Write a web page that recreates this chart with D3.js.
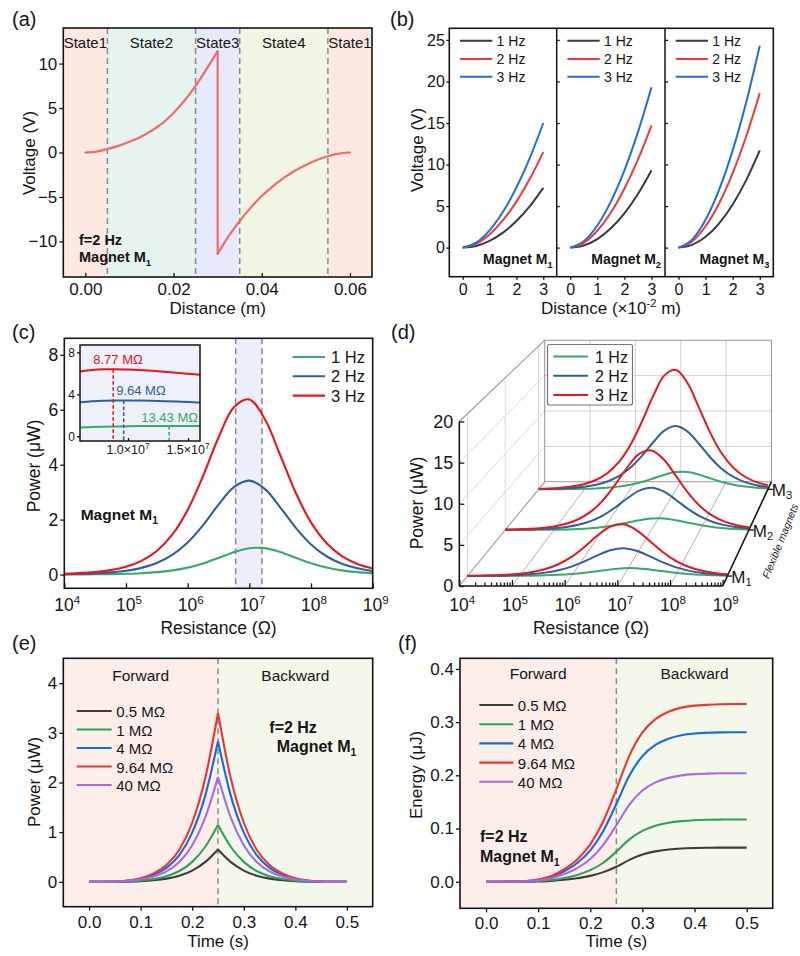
<!DOCTYPE html>
<html><head><meta charset="utf-8">
<script src="https://cdn.jsdelivr.net/npm/d3@7"></script>
<style>body{margin:0;background:#fff}</style>
</head><body>
<svg id="fig" width="800" height="956" xmlns="http://www.w3.org/2000/svg"></svg>
<script>
// ===================== DATA =====================
// (a)
const aStateNames = ["State1", "State2", "State3", "State4", "State1"];
const aStateStart = [-0.005, 0.005, 0.025, 0.035, 0.055];
const aStateEnd   = [0.005, 0.025, 0.035, 0.055, 0.065];
const aStateBorders = [0.005, 0.025, 0.035, 0.055];
const aDist1 = [0, 0.0025, 0.005, 0.0075, 0.01, 0.0125, 0.015, 0.0175, 0.02, 0.0225, 0.025, 0.0275, 0.03];
const aVolt1 = [0, 0.1, 0.4, 0.75, 1.2, 1.75, 2.45, 3.3, 4.45, 5.85, 7.5, 9.4, 11.4];
const aDist2 = [0.03, 0.0325, 0.035, 0.0375, 0.04, 0.0425, 0.045, 0.0475, 0.05, 0.0525, 0.055, 0.0575, 0.06];
const aVolt2 = [-11.4, -9.4, -7.7, -6.2, -4.9, -3.8, -2.85, -2.05, -1.4, -0.85, -0.42, -0.12, 0];
const aXTicks = [0, 0.02, 0.04, 0.06];
const aYTicks = [-10, -5, 0, 5, 10];

// (b)
const bFreqs = ["1 Hz", "2 Hz", "3 Hz"];
const bMagnets = ["1", "2", "3"];
const bDistance = [0, 0.5, 1, 1.5, 2, 2.5, 3];
const bVoltM1 = [
  [0, 0.2, 0.8, 1.8, 3.2, 5.0, 7.2],
  [0, 0.46, 1.59, 3.3, 5.54, 8.28, 11.5],
  [0, 0.6, 2.08, 4.31, 7.23, 10.8, 15.0]];
const bVoltM2 = [
  [0, 0.26, 1.03, 2.33, 4.13, 6.46, 9.3],
  [0, 0.58, 2.03, 4.22, 7.09, 10.59, 14.7],
  [0, 0.77, 2.67, 5.54, 9.3, 13.9, 19.3]];
const bVoltM3 = [
  [0, 0.33, 1.3, 2.93, 5.2, 8.13, 11.7],
  [0, 0.74, 2.57, 5.34, 8.97, 13.4, 18.6],
  [0, 0.96, 3.36, 6.98, 11.71, 17.5, 24.3]];
const bXTicks = [0, 1, 2, 3];
const bYTicks = [0, 5, 10, 15, 20, 25];

// (c) & (d): resistance grid as log10(R)
const freqNames = ["1 Hz", "2 Hz", "3 Hz"];
const resExp = [4, 4.25, 4.5, 4.75, 5, 5.25, 5.5, 5.75, 6, 6.25, 6.5, 6.75, 7, 7.25, 7.5, 7.75, 8, 8.25, 8.5, 8.75, 9];
const cPower1Hz = [0.0029, 0.0052, 0.0092, 0.0163, 0.0288, 0.0506, 0.0881, 0.1512, 0.2529, 0.4048, 0.6048, 0.8155, 0.959, 0.9609, 0.8201, 0.61, 0.4091, 0.2559, 0.1532, 0.0893, 0.0513];
const cPower2Hz = [0.0142, 0.0251, 0.0446, 0.0789, 0.139, 0.243, 0.421, 0.713, 1.165, 1.799, 2.545, 3.183, 3.419, 3.118, 2.449, 1.709, 1.097, 0.667, 0.393, 0.227, 0.129];
const cPower3Hz = [0.029, 0.051, 0.092, 0.162, 0.285, 0.499, 0.86, 1.45, 2.352, 3.588, 4.987, 6.094, 6.372, 5.663, 4.351, 2.988, 1.898, 1.147, 0.672, 0.387, 0.221];
const cBand = [6e6, 1.6e7];
const cXTickExp = [4, 5, 6, 7, 8, 9];
const cYTicks = [0, 2, 4, 6, 8];
// inset (MΩ)
const insetRes = [6, 7, 8, 9, 10, 11, 12, 13, 14, 15, 16];
const insetP1Hz = [0.837, 0.883, 0.917, 0.942, 0.959, 0.970, 0.977, 0.980, 0.980, 0.977, 0.972];
const insetP2Hz = [3.235, 3.334, 3.390, 3.416, 3.419, 3.405, 3.379, 3.345, 3.304, 3.258, 3.209];
const insetP3Hz = [6.175, 6.319, 6.386, 6.399, 6.372, 6.319, 6.245, 6.158, 6.062, 5.960, 5.855];
const insetOptR = [13.43, 9.64, 8.77];
const insetOptP = [0.98, 3.42, 6.40];
const insetOptLabel = ["13.43 MΩ", "9.64 MΩ", "8.77 MΩ"];
const insetYTicks = [0, 4, 8];
const insetXTicks = [10, 15];

// (d)
const dMagnetDepth = [1, 2, 3];
const dPowerM2_1Hz = [0.0046, 0.0082, 0.0144, 0.0256, 0.0452, 0.0795, 0.1385, 0.2377, 0.3974, 0.6361, 0.9503, 1.2816, 1.507, 1.51, 1.2888, 0.9585, 0.6429, 0.4021, 0.2407, 0.1403, 0.0805];
const dPowerM2_2Hz = [0.0231, 0.0409, 0.0725, 0.1283, 0.226, 0.3956, 0.684, 1.158, 1.894, 2.925, 4.137, 5.175, 5.558, 5.07, 3.982, 2.778, 1.783, 1.085, 0.638, 0.368, 0.21];
const dPowerM2_3Hz = [0.048, 0.084, 0.15, 0.266, 0.468, 0.818, 1.411, 2.378, 3.859, 5.887, 8.181, 9.998, 10.455, 9.29, 7.139, 4.901, 3.113, 1.881, 1.103, 0.635, 0.362];
const dPowerM3_1Hz = [0.0073, 0.013, 0.0231, 0.0409, 0.0722, 0.1269, 0.2212, 0.3796, 0.6348, 1.0162, 1.5181, 2.0472, 2.4073, 2.4121, 2.0587, 1.5311, 1.027, 0.6424, 0.3845, 0.2241, 0.1287];
const dPowerM3_2Hz = [0.0367, 0.065, 0.1153, 0.204, 0.359, 0.629, 1.088, 1.842, 3.011, 4.65, 6.578, 8.228, 8.837, 8.06, 6.33, 4.416, 2.835, 1.725, 1.015, 0.586, 0.334];
const dPowerM3_3Hz = [0.076, 0.134, 0.24, 0.424, 0.747, 1.305, 2.251, 3.794, 6.156, 9.392, 13.05, 15.949, 16.678, 14.82, 11.388, 7.819, 4.966, 3.001, 1.759, 1.013, 0.577];
const dYTicks = [0, 5, 10, 15, 20];

// (e) & (f)
const loadNames = ["0.5 MΩ", "1 MΩ", "4 MΩ", "9.64 MΩ", "40 MΩ"];
const time = [0, 0.025, 0.05, 0.075, 0.1, 0.125, 0.15, 0.175, 0.2, 0.225, 0.25, 0.275, 0.3, 0.325, 0.35, 0.375, 0.4, 0.425, 0.45, 0.475, 0.5];
const ePow05 = [0, 0.0001, 0.0013, 0.0052, 0.0143, 0.0325, 0.065, 0.1235, 0.2275, 0.3965, 0.65, 0.3965, 0.2275, 0.1235, 0.065, 0.0325, 0.0143, 0.0052, 0.0013, 0.0001, 0];
const ePow1   = [0, 0.0002, 0.0023, 0.0092, 0.0253, 0.0575, 0.115, 0.2185, 0.4025, 0.7015, 1.15, 0.7015, 0.4025, 0.2185, 0.115, 0.0575, 0.0253, 0.0092, 0.0023, 0.0002, 0];
const ePow4   = [0, 0.0006, 0.0057, 0.0226, 0.0623, 0.1415, 0.283, 0.5377, 0.9905, 1.7263, 2.83, 1.7263, 0.9905, 0.5377, 0.283, 0.1415, 0.0623, 0.0226, 0.0057, 0.0006, 0];
const ePow964 = [0, 0.0007, 0.0068, 0.0272, 0.0748, 0.17, 0.34, 0.646, 1.19, 2.074, 3.4, 2.074, 1.19, 0.646, 0.34, 0.17, 0.0748, 0.0272, 0.0068, 0.0007, 0];
const ePow40  = [0, 0.0004, 0.0042, 0.0169, 0.0464, 0.1055, 0.211, 0.4009, 0.7385, 1.2871, 2.11, 1.2871, 0.7385, 0.4009, 0.211, 0.1055, 0.0464, 0.0169, 0.0042, 0.0004, 0];
const fEn05 = [0, 0, 0, 0.0001, 0.0006, 0.0016, 0.0036, 0.0066, 0.011, 0.018, 0.028, 0.041, 0.051, 0.057, 0.0605, 0.0625, 0.0634, 0.0638, 0.064, 0.064, 0.064];
const fEn1  = [0, 0, 0.0001, 0.0003, 0.0012, 0.0032, 0.0071, 0.0128, 0.0217, 0.0356, 0.0565, 0.0795, 0.0955, 0.1053, 0.1108, 0.1139, 0.1156, 0.1164, 0.1168, 0.117, 0.117];
const fEn4  = [0, 0, 0.0001, 0.0008, 0.0034, 0.009, 0.0197, 0.0351, 0.059, 0.0955, 0.1461, 0.1995, 0.236, 0.2571, 0.2689, 0.2754, 0.2785, 0.2799, 0.2807, 0.281, 0.281];
const fEn964 = [0, 0, 0.0002, 0.001, 0.004, 0.0107, 0.0234, 0.0418, 0.0701, 0.1136, 0.1737, 0.2371, 0.2806, 0.3056, 0.3196, 0.3273, 0.331, 0.3327, 0.3337, 0.334, 0.334];
const fEn40 = [0, 0, 0.0001, 0.0006, 0.0024, 0.0065, 0.0143, 0.0255, 0.0428, 0.0694, 0.1061, 0.1448, 0.1714, 0.1867, 0.1952, 0.1999, 0.2022, 0.2032, 0.2038, 0.204, 0.204];
const turnTime = 0.25;
const timeTicks = [0, 0.1, 0.2, 0.3, 0.4, 0.5];
const eYTicks = [0, 1, 2, 3, 4];
const fYTicks = [0, 0.1, 0.2, 0.3, 0.4];

// ===================== HELPERS =====================
const FONT = "'Liberation Sans', Arial, Helvetica, sans-serif";
const svg = d3.select("#fig");
svg.append("rect").attr("width", 800).attr("height", 956).attr("fill", "#fff");

function T(g, x, y, segs, o = {}) {
  const fs = o.size || 16;
  const t = g.append("text").attr("x", x).attr("y", y)
    .attr("font-family", FONT).attr("font-size", fs)
    .attr("fill", o.fill || "#151515")
    .attr("text-anchor", o.anchor || "start");
  if (o.weight) t.attr("font-weight", o.weight);
  if (o.style) t.attr("font-style", o.style);
  if (o.transform) t.attr("transform", o.transform);
  if (o.baseline) t.attr("dominant-baseline", o.baseline);
  if (typeof segs === "string") segs = [{ t: segs }];
  let cur = 0;
  segs.forEach(s => {
    const target = s.sup ? -0.42 * fs : s.sub ? 0.28 * fs : 0;
    const ts = t.append("tspan").text(s.t);
    if (target !== cur) ts.attr("dy", target - cur);
    if (s.sup || s.sub) ts.attr("font-size", fs * 0.66);
    cur = target;
  });
  return t;
}
function styleAxis(g, size) {
  g.attr("font-family", null).attr("font-size", null);
  g.select(".domain").remove();
  g.selectAll(".tick line").attr("stroke", "#151515").attr("stroke-width", 1.3);
  g.selectAll(".tick text").attr("font-family", FONT).attr("font-size", size).attr("fill", "#151515");
}
function frame(g, x0, y0, x1, y1, w = 1.6) {
  g.append("rect").attr("x", x0).attr("y", y0).attr("width", x1 - x0).attr("height", y1 - y0)
    .attr("fill", "none").attr("stroke", "#151515").attr("stroke-width", w);
}
function vdash(g, x, y0, y1, color = "#8a8a8a") {
  g.append("line").attr("x1", x).attr("x2", x).attr("y1", y0).attr("y2", y1)
    .attr("stroke", color).attr("stroke-width", 1.5).attr("stroke-dasharray", "6,4");
}
function panelLabel(x, y, s) { T(svg, x, y, s, { size: 20 }); }
function pairs(xs, ys) { return xs.map((x, i) => [x, ys[i]]); }

// ===================== (a) =====================
{
  const g = svg.append("g");
  const L = 63.3, R = 372, TOP = 28, B = 277;
  const x = d3.scaleLinear().domain([-0.005, 0.065]).range([L, R]);
  const y = d3.scaleLinear().domain([-14, 14]).range([B, TOP]);
  const stateColors = ["#fde9e1", "#e6f3ee", "#e7eafb", "#f0f6e3", "#fde9e1"];
  aStateNames.forEach((n, i) => {
    g.append("rect").attr("x", x(aStateStart[i])).attr("y", TOP)
      .attr("width", x(aStateEnd[i]) - x(aStateStart[i])).attr("height", B - TOP)
      .attr("fill", stateColors[i]);
  });
  aStateBorders.forEach(v => vdash(g, x(v), TOP, B));
  aStateNames.forEach((n, i) => {
    const c = (aStateStart[i] + aStateEnd[i]) / 2;
    T(g, x(i === 0 ? 0 : i === 4 ? 0.06 : c), 48, n, { size: 15, anchor: "middle" });
  });
  const line = d3.line().x(d => x(d[0])).y(d => y(d[1])).curve(d3.curveMonotoneX);
  const st = { fill: "none", stroke: "#f06b6b", "stroke-width": 2.2, "stroke-linecap": "round" };
  [pairs(aDist1, aVolt1), pairs(aDist2, aVolt2)].forEach(p => {
    const path = g.append("path").attr("d", line(p));
    for (const k in st) path.attr(k, st[k]);
  });
  g.append("line").attr("x1", x(aDist1[aDist1.length - 1])).attr("x2", x(aDist2[0]))
    .attr("y1", y(aVolt1[aVolt1.length - 1])).attr("y2", y(aVolt2[0]))
    .attr("stroke", "#f06b6b").attr("stroke-width", 2.2);
  T(g, 79, 245, "f=2 Hz", { size: 14.5, weight: "bold" });
  T(g, 79, 262, [{ t: "Magnet M" }, { t: "1", sub: true }], { size: 14.5, weight: "bold" });
  frame(g, L, TOP, R, B);
  const ax = g.append("g").attr("transform", `translate(0,${B})`)
    .call(d3.axisBottom(x).tickValues(aXTicks).tickFormat(d3.format(".2f")).tickSize(-4).tickPadding(6));
  styleAxis(ax, 17);
  const ay = g.append("g").attr("transform", `translate(${L},0)`)
    .call(d3.axisLeft(y).tickValues(aYTicks).tickSize(4).tickPadding(2));
  styleAxis(ay, 17);
  T(g, (L + R) / 2, 314, "Distance (m)", { size: 17, anchor: "middle" });
  T(g, 0, 0, "Voltage (V)", { size: 17, anchor: "middle", baseline: "central", transform: "translate(29,153) rotate(-90)" });
  panelLabel(12, 26, "(a)");
}

// ===================== (b) =====================
{
  const g = svg.append("g");
  const TOP = 28.3, B = 276.7;
  const lefts = [449.3, 556.7, 665], rights = [556.7, 665, 773.3];
  const y = d3.scaleLinear().domain([-3.5, 26.4]).range([B, TOP]);
  const colors = ["#3a3a3a", "#f03a3a", "#1d6fe0"];
  const all = [bVoltM1, bVoltM2, bVoltM3];
  all.forEach((series, p) => {
    const x = d3.scaleLinear().domain([-0.5, 3.5]).range([lefts[p], rights[p]]);
    const line = d3.line().x(d => x(d[0])).y(d => y(d[1])).curve(d3.curveMonotoneX);
    series.forEach((vals, i) => {
      g.append("path").attr("d", line(pairs(bDistance, vals))).attr("fill", "none")
        .attr("stroke", colors[i]).attr("stroke-width", 2);
    });
    bFreqs.forEach((f, i) => {
      const yy = [40.7, 59, 76.7][i];
      g.append("line").attr("x1", lefts[p] + 10.7).attr("x2", lefts[p] + 43).attr("y1", yy).attr("y2", yy)
        .attr("stroke", colors[i]).attr("stroke-width", 2);
      T(g, lefts[p] + 47.3, yy, f, { size: 14, baseline: "central" });
    });
    T(g, rights[p] - 4, 264, [{ t: "Magnet M" }, { t: bMagnets[p], sub: true }], { size: 14, weight: "bold", anchor: "end" });
    const ax = g.append("g").attr("transform", `translate(0,${B})`)
      .call(d3.axisBottom(x).tickValues(bXTicks).tickFormat(d3.format("d")).tickSize(3).tickPadding(4));
    styleAxis(ax, 16);
    if (p > 0) {
      const ay2 = g.append("g").attr("transform", `translate(${lefts[p]},0)`)
        .call(d3.axisRight(y).tickValues(bYTicks).tickSize(3).tickFormat(""));
      styleAxis(ay2, 16);
    }
  });
  frame(g, lefts[0], TOP, rights[2], B);
  [lefts[1], lefts[2]].forEach(xx => g.append("line").attr("x1", xx).attr("x2", xx).attr("y1", TOP).attr("y2", B)
    .attr("stroke", "#151515").attr("stroke-width", 1.5));
  const ay = g.append("g").attr("transform", `translate(${lefts[0]},0)`)
    .call(d3.axisLeft(y).tickValues(bYTicks).tickSize(3).tickPadding(1.5));
  styleAxis(ay, 16);
  T(g, 611, 314, [{ t: "Distance (×10" }, { t: "-2", sup: true }, { t: " m)" }], { size: 17, anchor: "middle" });
  T(g, 0, 0, "Voltage (V)", { size: 17, anchor: "middle", baseline: "central", transform: "translate(417,150) rotate(-90)" });
  panelLabel(390, 26, "(b)");
}

// ===================== (c) =====================
const cColors = ["#39a96b", "#2f5f9f", "#e8161e"];
{
  const g = svg.append("g");
  const L = 64.3, R = 372.7, TOP = 338.3, B = 588.3;
  const x = d3.scaleLog().domain([1e4, 1e9]).range([L, R]);
  const y = d3.scaleLinear().domain([-0.5, 8.6]).range([B, TOP]);
  g.append("rect").attr("x", x(cBand[0])).attr("y", TOP).attr("width", x(cBand[1]) - x(cBand[0]))
    .attr("height", B - TOP).attr("fill", "#eceefa");
  cBand.forEach(v => vdash(g, x(v), TOP, B));
  const line = d3.line().x(d => x(Math.pow(10, d[0]))).y(d => y(d[1])).curve(d3.curveCatmullRom.alpha(0.5));
  [cPower1Hz, cPower2Hz, cPower3Hz].forEach((vals, i) => {
    g.append("path").attr("d", line(pairs(resExp, vals))).attr("fill", "none")
      .attr("stroke", cColors[i]).attr("stroke-width", 2.1);
  });
  freqNames.forEach((f, i) => {
    const yy = 357 + 19.3 * i;
    g.append("line").attr("x1", 292.7).attr("x2", 325).attr("y1", yy).attr("y2", yy)
      .attr("stroke", cColors[i]).attr("stroke-width", 2.1);
    T(g, 331, yy, f, { size: 16.5, baseline: "central" });
  });
  T(g, 80.7, 520, [{ t: "Magnet M" }, { t: "1", sub: true }], { size: 15.5, weight: "bold" });
  frame(g, L, TOP, R, B);
  const ax = g.append("g").attr("transform", `translate(0,${B})`)
    .call(d3.axisBottom(x).tickValues(cXTickExp.map(e => Math.pow(10, e))).tickFormat("").tickSize(-5));
  styleAxis(ax, 17);
  cXTickExp.forEach(e => T(g, x(Math.pow(10, e)) + 3, 611, [{ t: "10" }, { t: String(e), sup: true }], { size: 17.5, anchor: "middle" }));
  const ay = g.append("g").attr("transform", `translate(${L},0)`)
    .call(d3.axisLeft(y).tickValues(cYTicks).tickSize(4).tickPadding(2));
  styleAxis(ay, 17.5);
  T(g, (L + R) / 2, 634, "Resistance (Ω)", { size: 17.5, anchor: "middle" });
  T(g, 0, 0, "Power (μW)", { size: 17.5, anchor: "middle", baseline: "central", transform: "translate(34,466) rotate(-90)" });

  // inset
  const ig = g.append("g");
  const iL = 80, iR = 200, iT = 345, iB = 441;
  const xi = d3.scaleLinear().domain([6, 16]).range([iL, iR]);
  const yi = d3.scaleLinear().domain([-0.45, 8.7]).range([iB, iT]);
  ig.append("rect").attr("x", iL).attr("y", iT).attr("width", iR - iL).attr("height", iB - iT).attr("fill", "#eef0fa");
  const il = d3.line().x(d => xi(d[0])).y(d => yi(d[1])).curve(d3.curveMonotoneX);
  [insetP1Hz, insetP2Hz, insetP3Hz].forEach((vals, i) => {
    ig.append("path").attr("d", il(pairs(insetRes, vals))).attr("fill", "none")
      .attr("stroke", cColors[i]).attr("stroke-width", 2);
  });
  insetOptR.forEach((r, i) => {
    ig.append("line").attr("x1", xi(r)).attr("x2", xi(r)).attr("y1", yi(insetOptP[i])).attr("y2", iB)
      .attr("stroke", cColors[i]).attr("stroke-width", 1.6).attr("stroke-dasharray", "3.5,2.5");
  });
  T(ig, iR - 2, yi(insetOptP[0]) - 4, insetOptLabel[0], { size: 13, fill: cColors[0], anchor: "end" });
  T(ig, xi(insetOptR[1]) - 7.5, yi(insetOptP[1]) - 5, insetOptLabel[1], { size: 13, fill: cColors[1] });
  T(ig, xi(insetOptR[2]) - 20, yi(insetOptP[2]) - 5, insetOptLabel[2], { size: 13, fill: cColors[2] });
  frame(ig, iL, iT, iR, iB, 1.5);
  const iay = ig.append("g").attr("transform", `translate(${iL},0)`)
    .call(d3.axisLeft(yi).tickValues(insetYTicks).tickSize(3).tickPadding(2));
  styleAxis(iay, 12);
  const iax = ig.append("g").attr("transform", `translate(0,${iB})`)
    .call(d3.axisBottom(xi).tickValues(insetXTicks).tickFormat("").tickSize(-3));
  styleAxis(iax, 12);
  insetXTicks.forEach(v => T(ig, xi(v), 454, [{ t: (v / 10).toFixed(1) + "×10" }, { t: "7", sup: true }], { size: 12.5, anchor: "middle" }));
  panelLabel(12, 339, "(c)");
}

// ===================== (d) =====================
{
  const g = svg.append("g");
  const VP = [1072, -161.5];
  const x = d3.scaleLog().domain([1e4, 1e9]).range([459.3, 722.7]);
  const y = d3.scaleLinear().domain([0, 20]).range([586, 421.5]);
  const z = d3.scaleLinear().domain([0.8, 3.2]).range([0, 0.162]);
  const P3 = (R, P, m) => { const s = 1 / (1 + z(m)); return [VP[0] + (x(R) - VP[0]) * s, VP[1] + (y(P) - VP[1]) * s]; };
  const seg = (a, b, color, w = 1) => g.append("line").attr("x1", a[0]).attr("y1", a[1]).attr("x2", b[0]).attr("y2", b[1])
    .attr("stroke", color).attr("stroke-width", w);
  const decades = [1e5, 1e6, 1e7, 1e8];
  decades.forEach(R => seg(P3(R, 0, 3.2), P3(R, 20, 3.2), "#d2d2d2"));
  [5, 10, 15].forEach(P => seg(P3(1e4, P, 3.2), P3(1e9, P, 3.2), "#d2d2d2"));
  [5, 10, 15].forEach(P => seg(P3(1e4, P, 0.8), P3(1e4, P, 3.2), "#dadada"));
  dMagnetDepth.forEach(m => seg(P3(1e4, 0, m), P3(1e4, 20, m), "#dadada"));
  decades.forEach(R => seg(P3(R, 0, 0.8), P3(R, 0, 3.2), "#a8a8a8", 0.9));
  const bw = [P3(1e4, 0, 3.2), P3(1e9, 0, 3.2), P3(1e9, 20, 3.2), P3(1e4, 20, 3.2)];
  g.append("polygon").attr("points", bw.map(p => p.join(",")).join(" ")).attr("fill", "none").attr("stroke", "#9a9a9a").attr("stroke-width", 1.1);
  seg(P3(1e4, 20, 0.8), P3(1e4, 20, 3.2), "#9a9a9a", 1.1);
  seg(P3(1e4, 0, 0.8), P3(1e4, 0, 3.2), "#9a9a9a", 1.1);

  const rows = [
    [cPower1Hz, cPower2Hz, cPower3Hz],
    [dPowerM2_1Hz, dPowerM2_2Hz, dPowerM2_3Hz],
    [dPowerM3_1Hz, dPowerM3_2Hz, dPowerM3_3Hz]];
  [2, 1, 0].forEach(r => {
    const m = dMagnetDepth[r];
    const line = d3.line().x(d => P3(Math.pow(10, d[0]), d[1], m)[0]).y(d => P3(Math.pow(10, d[0]), d[1], m)[1])
      .curve(d3.curveCatmullRom.alpha(0.5));
    rows[r].forEach((vals, i) => {
      g.append("path").attr("d", line(pairs(resExp, vals))).attr("fill", "none")
        .attr("stroke", cColors[i]).attr("stroke-width", 2);
    });
  });

  seg(P3(1e9, 0, 0.8), P3(1e9, 0, 3.2), "#151515", 1.6);
  dMagnetDepth.forEach((m, i) => {
    const p = P3(1e9, 0, m);
    seg(p, [p[0] + 5, p[1]], "#151515", 1.3);
    T(g, p[0] + 4, p[1] + 1, [{ t: "M" }, { t: String(i + 1), sub: true }], { size: 17, baseline: "central" });
  });
  T(g, 0, 0, "Flexible magnets", { size: 10.5, style: "italic", anchor: "middle", baseline: "central", fill: "#222",
    transform: "translate(780,541) rotate(-68)" });
  seg([459.3, 586], [722.7, 586], "#151515", 1.6);
  seg([459.3, 586], [459.3, 421.5], "#151515", 1.6);
  const ax = g.append("g").attr("transform", "translate(0,586)")
    .call(d3.axisBottom(x).tickValues(cXTickExp.map(e => Math.pow(10, e))).tickFormat("").tickSize(-6));
  styleAxis(ax, 17);
  const minors = [];
  [4, 5, 6, 7, 8].forEach(e => [2, 3, 4, 5, 6, 7, 8, 9].forEach(k => minors.push(k * Math.pow(10, e))));
  const axm = g.append("g").attr("transform", "translate(0,586)")
    .call(d3.axisBottom(x).tickValues(minors).tickFormat("").tickSize(-3.5));
  styleAxis(axm, 17);
  cXTickExp.forEach(e => T(g, x(Math.pow(10, e)) + 3, 611, [{ t: "10" }, { t: String(e), sup: true }], { size: 17.5, anchor: "middle" }));
  const ay = g.append("g").attr("transform", "translate(459.3,0)")
    .call(d3.axisLeft(y).tickValues(dYTicks).tickSize(-5).tickPadding(6));
  styleAxis(ay, 18);
  T(g, 591, 634, "Resistance (Ω)", { size: 17.5, anchor: "middle" });
  T(g, 0, 0, "Power (μW)", { size: 17.5, anchor: "middle", baseline: "central", transform: "translate(417,503) rotate(-90)" });

  g.append("rect").attr("x", 547.5).attr("y", 344.5).attr("width", 85).attr("height", 60.5).attr("rx", 2)
    .attr("fill", "#fff").attr("stroke", "#777").attr("stroke-width", 1.2);
  freqNames.forEach((f, i) => {
    const yy = 356.5 + 19.3 * i;
    g.append("line").attr("x1", 553.3).attr("x2", 588).attr("y1", yy).attr("y2", yy)
      .attr("stroke", cColors[i]).attr("stroke-width", 2);
    T(g, 595, yy, f, { size: 16, baseline: "central" });
  });
  panelLabel(391, 339, "(d)");
}

// ===================== (e) & (f) =====================
const efColors = ["#3c3c3c", "#2ca25a", "#1a6ad8", "#ec3535", "#a66be0"];
function timePanel(opts) {
  const g = svg.append("g");
  const { L, R, TOP, B } = opts;
  const x = d3.scaleLinear().domain([-0.05, 0.55]).range([L, R]);
  const y = d3.scaleLinear().domain(opts.ydom).range([B, TOP]);
  g.append("rect").attr("x", L).attr("y", TOP).attr("width", x(turnTime) - L).attr("height", B - TOP).attr("fill", "#fdeee9");
  g.append("rect").attr("x", x(turnTime)).attr("y", TOP).attr("width", R - x(turnTime)).attr("height", B - TOP).attr("fill", "#f3f8eb");
  vdash(g, x(turnTime), TOP, B);
  T(g, x(0.1), opts.phaseY, "Forward", { size: 15.5, anchor: "middle" });
  T(g, x(0.4), opts.phaseY, "Backward", { size: 15.5, anchor: "middle" });
  const line = d3.line().x(d => x(d[0])).y(d => y(d[1])).curve(d3.curveMonotoneX);
  opts.series.forEach((vals, i) => {
    const pts = pairs(time, vals);
    const parts = opts.split ? [pts.slice(0, 11), pts.slice(10)] : [pts];
    parts.forEach(p => g.append("path").attr("d", line(p)).attr("fill", "none")
      .attr("stroke", efColors[i]).attr("stroke-width", 2.1).attr("stroke-linejoin", "round"));
  });
  loadNames.forEach((n, i) => {
    const yy = opts.legY + opts.legDy * i;
    g.append("line").attr("x1", opts.legX0).attr("x2", opts.legX1).attr("y1", yy).attr("y2", yy)
      .attr("stroke", efColors[i]).attr("stroke-width", 2.1);
    T(g, opts.legX1 + 4.5, yy, n, { size: 15, baseline: "central" });
  });
  T(g, opts.annX[0], opts.annY[0], "f=2 Hz", { size: 16, weight: "bold" });
  T(g, opts.annX[1], opts.annY[1], [{ t: "Magnet M" }, { t: "1", sub: true }], { size: 16, weight: "bold" });
  frame(g, L, TOP, R, B);
  const ax = g.append("g").attr("transform", `translate(0,${B})`)
    .call(d3.axisBottom(x).tickValues(timeTicks).tickFormat(d3.format(".1f")).tickSize(4).tickPadding(5));
  styleAxis(ax, 17);
  const ay = g.append("g").attr("transform", `translate(${L},0)`)
    .call(d3.axisLeft(y).tickValues(opts.yticks).tickFormat(opts.yfmt).tickSize(4).tickPadding(2));
  styleAxis(ay, 17);
  T(g, (L + R) / 2, 947, "Time (s)", { size: 17, anchor: "middle" });
  T(g, 0, 0, opts.ytitle, { size: 17, anchor: "middle", baseline: "central", transform: `translate(${opts.ytx},${opts.yty}) rotate(-90)` });
}
timePanel({
  L: 63.3, R: 372.7, TOP: 658.3, B: 906.7, ydom: [-0.5, 4.5], phaseY: 681,
  series: [ePow05, ePow1, ePow4, ePow964, ePow40], split: true,
  legY: 711, legDy: 18.5, legX0: 76.7, legX1: 111.7,
  annX: [269.3, 276.7], annY: [732.5, 751.5],
  yticks: eYTicks, yfmt: d3.format("d"), ytitle: "Power (μW)", ytx: 34, yty: 782
});
timePanel({
  L: 460, R: 772.7, TOP: 658.3, B: 908.3, ydom: [-0.05, 0.42], phaseY: 679,
  series: [fEn05, fEn1, fEn4, fEn964, fEn40], split: false,
  legY: 705, legDy: 19.2, legX0: 479.3, legX1: 513.3,
  annX: [480, 480], annY: [842, 862],
  yticks: fYTicks, yfmt: d3.format(".1f"), ytitle: "Energy (μJ)", ytx: 416, yty: 775
});
panelLabel(12, 650, "(e)");
panelLabel(398, 650, "(f)");
</script>
</body></html>
